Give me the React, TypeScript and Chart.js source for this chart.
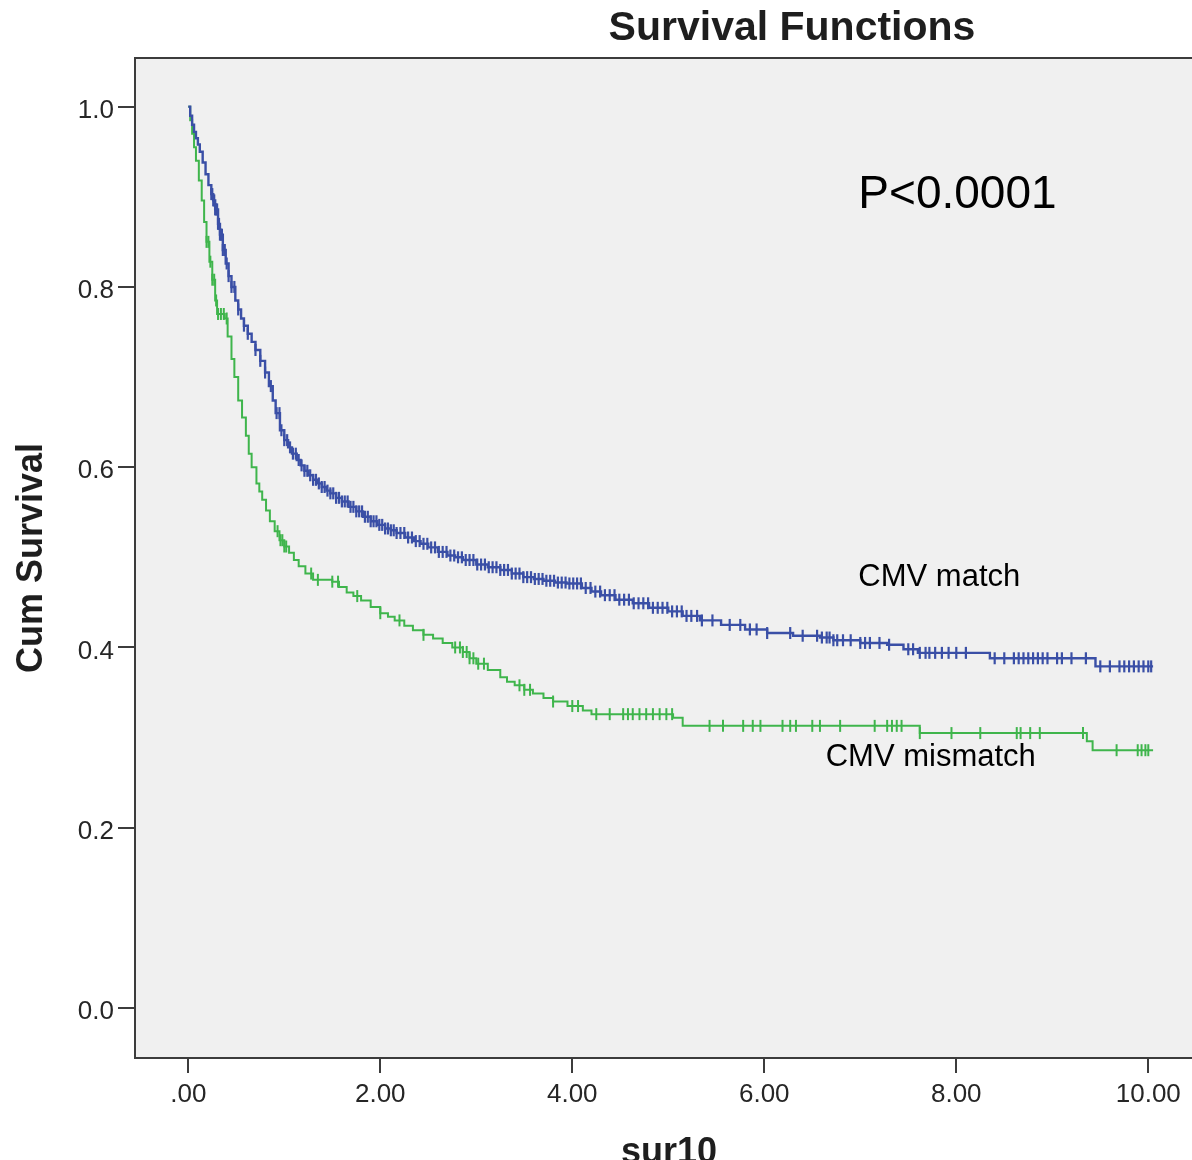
import { useEffect, useRef } from 'react';
import { Chart, registerables } from 'chart.js';

Chart.register(...registerables);

// ---- Data ----
const chartTitle = 'Survival Functions';
const xAxisTitle = 'sur10';
const yAxisTitle = 'Cum Survival';
const pValueText = 'P<0.0001';
const seriesNames = ['CMV match', 'CMV mismatch'];

const xTickValues = [0, 2, 4, 6, 8, 10];
const yTickValues = [0, 0.2, 0.4, 0.6, 0.8, 1.0];

// CMV match (blue) Kaplan-Meier curve: event times and survival after each step
const matchTimes = [0, 0.02, 0.04, 0.06, 0.08, 0.10, 0.12, 0.15, 0.18, 0.21, 0.24, 0.26, 0.28, 0.31, 0.33, 0.36, 0.39, 0.42, 0.45, 0.49, 0.52, 0.55, 0.58, 0.62, 0.66, 0.70, 0.75, 0.80, 0.84, 0.88, 0.91, 0.955, 1.00, 1.04, 1.08, 1.13, 1.17, 1.21, 1.25, 1.30, 1.35, 1.39, 1.44, 1.48, 1.54, 1.60, 1.67, 1.75, 1.82, 1.90, 1.97, 2.05, 2.11, 2.17, 2.26, 2.35, 2.42, 2.5, 2.6, 2.7, 2.78, 2.86, 3.0, 3.12, 3.25, 3.37, 3.49, 3.6, 3.7, 3.82, 3.94, 4.1, 4.2, 4.3, 4.45, 4.63, 4.8, 5.0, 5.15, 5.33, 5.55, 5.8, 6.03, 6.3, 6.58, 6.72, 7.0, 7.28, 7.45, 7.6, 8.35, 9.45, 10.05];
const matchSurv = [1.0, 0.99, 0.98, 0.972, 0.965, 0.958, 0.95, 0.938, 0.925, 0.913, 0.903, 0.896, 0.886, 0.87, 0.858, 0.841, 0.826, 0.812, 0.8, 0.785, 0.775, 0.765, 0.757, 0.748, 0.739, 0.73, 0.718, 0.705, 0.69, 0.674, 0.66, 0.641, 0.63, 0.622, 0.615, 0.608, 0.602, 0.596, 0.591, 0.586, 0.582, 0.578, 0.574, 0.571, 0.566, 0.562, 0.556, 0.551, 0.545, 0.54, 0.536, 0.532, 0.53, 0.527, 0.522, 0.518, 0.515, 0.511, 0.506, 0.502, 0.5, 0.497, 0.492, 0.489, 0.486, 0.482, 0.478, 0.476, 0.474, 0.472, 0.471, 0.466, 0.462, 0.458, 0.453, 0.449, 0.444, 0.44, 0.435, 0.43, 0.425, 0.42, 0.416, 0.413, 0.411, 0.408, 0.405, 0.403, 0.398, 0.394, 0.388, 0.379, 0.379];

// CMV mismatch (green) Kaplan-Meier curve
const mismatchTimes = [0, 0.02, 0.04, 0.06, 0.08, 0.11, 0.14, 0.165, 0.19, 0.22, 0.25, 0.28, 0.30, 0.38, 0.41, 0.45, 0.48, 0.52, 0.56, 0.60, 0.63, 0.66, 0.71, 0.74, 0.77, 0.81, 0.85, 0.90, 0.95, 1.00, 1.05, 1.10, 1.15, 1.22, 1.30, 1.5, 1.57, 1.65, 1.72, 1.8, 1.9, 2.0, 2.08, 2.15, 2.25, 2.34, 2.45, 2.55, 2.65, 2.75, 2.86, 2.93, 3.0, 3.12, 3.25, 3.32, 3.4, 3.5, 3.59, 3.7, 3.8, 3.95, 4.11, 4.2, 5.05, 5.15, 7.62, 9.36, 9.42, 10.05];
const mismatchSurv = [1.0, 0.985, 0.97, 0.955, 0.94, 0.918, 0.896, 0.872, 0.85, 0.828, 0.808, 0.785, 0.77, 0.765, 0.745, 0.72, 0.7, 0.674, 0.655, 0.635, 0.615, 0.6, 0.582, 0.573, 0.564, 0.552, 0.54, 0.529, 0.519, 0.512, 0.505, 0.497, 0.49, 0.482, 0.475, 0.473, 0.467, 0.461, 0.457, 0.452, 0.445, 0.438, 0.434, 0.43, 0.424, 0.419, 0.414, 0.41, 0.405, 0.4, 0.395, 0.388, 0.382, 0.375, 0.367, 0.362, 0.358, 0.353, 0.349, 0.344, 0.34, 0.335, 0.33, 0.326, 0.322, 0.313, 0.305, 0.296, 0.286, 0.286];

// Censored observation times
const matchCensored = [0.24, 0.25, 0.26, 0.27, 0.28, 0.29, 0.30, 0.31, 0.32, 0.33, 0.34, 0.35, 0.36, 0.38, 0.40, 0.42, 0.45, 0.48, 0.52, 0.58, 0.62, 0.70, 0.75, 0.80, 0.86, 0.92, 0.95, 0.97, 1.00, 1.03, 1.06, 1.09, 1.12, 1.15, 1.18, 1.21, 1.24, 1.27, 1.30, 1.33, 1.36, 1.39, 1.42, 1.45, 1.48, 1.51, 1.54, 1.57, 1.60, 1.63, 1.66, 1.69, 1.72, 1.75, 1.78, 1.81, 1.84, 1.87, 1.90, 1.93, 1.96, 1.99, 2.02, 2.05, 2.08, 2.11, 2.14, 2.17, 2.21, 2.25, 2.29, 2.33, 2.37, 2.41, 2.45, 2.49, 2.53, 2.57, 2.61, 2.65, 2.69, 2.73, 2.77, 2.81, 2.85, 2.89, 2.93, 2.97, 3.01, 3.05, 3.09, 3.13, 3.17, 3.21, 3.25, 3.29, 3.33, 3.37, 3.41, 3.45, 3.49, 3.53, 3.57, 3.61, 3.65, 3.69, 3.73, 3.77, 3.81, 3.85, 3.89, 3.93, 3.97, 4.01, 4.05, 4.09, 4.14, 4.19, 4.24, 4.29, 4.34, 4.39, 4.44, 4.49, 4.54, 4.59, 4.64, 4.69, 4.74, 4.79, 4.84, 4.89, 4.94, 4.99, 5.04, 5.09, 5.14, 5.19, 5.24, 5.30, 5.35, 5.46, 5.64, 5.75, 5.85, 5.92, 6.03, 6.27, 6.40, 6.55, 6.60, 6.65, 6.68, 6.72, 6.76, 6.82, 6.9, 7.0, 7.05, 7.1, 7.2, 7.3, 7.5, 7.55, 7.62, 7.68, 7.72, 7.78, 7.85, 7.92, 8.0, 8.1, 8.4, 8.5, 8.6, 8.65, 8.7, 8.75, 8.8, 8.85, 8.9, 8.95, 9.05, 9.1, 9.2, 9.35, 9.5, 9.6, 9.7, 9.75, 9.8, 9.85, 9.9, 9.95, 10.0, 10.03];
const mismatchCensored = [0.19, 0.21, 0.23, 0.25, 0.27, 0.29, 0.31, 0.34, 0.37, 0.40, 0.93, 0.96, 0.98, 1.00, 1.02, 1.28, 1.35, 1.50, 1.56, 1.76, 2.0, 2.2, 2.45, 2.78, 2.83, 2.86, 2.90, 2.93, 2.97, 3.02, 3.08, 3.45, 3.50, 3.56, 3.80, 4.00, 4.06, 4.25, 4.39, 4.53, 4.58, 4.63, 4.70, 4.77, 4.84, 4.91, 4.98, 5.04, 5.43, 5.57, 5.78, 5.88, 5.96, 6.19, 6.27, 6.33, 6.50, 6.58, 6.79, 7.15, 7.28, 7.33, 7.38, 7.43, 7.62, 7.95, 8.25, 8.63, 8.67, 8.77, 8.87, 9.32, 9.67, 9.89, 9.93, 9.97, 10.0];

// ---- Styling ----
const BLUE = '#3a4fa6';
const GREEN = '#3fb54c';
const FONT = '"Liberation Sans", Arial, sans-serif';
const CANVAS_W = 1215;
const CANVAS_H = 1160;

function survAt(times: number[], surv: number[], t: number): number {
  let s = surv[0];
  for (let i = 0; i < times.length; i++) {
    if (times[i] <= t) s = surv[i];
    else break;
  }
  return s;
}

function curvePoints(times: number[], surv: number[]) {
  return times.map((t, i) => ({ x: t, y: surv[i] }));
}

function censorPoints(cens: number[], times: number[], surv: number[]) {
  return cens.map((t) => ({ x: t, y: survAt(times, surv, t) }));
}

const decorPlugin = {
  id: 'decor',
  beforeDraw(chart: any) {
    const { ctx, chartArea } = chart;
    const { left, top, right, bottom } = chartArea;
    ctx.save();
    ctx.fillStyle = '#f0f0f0';
    ctx.fillRect(left, top, right - left, bottom - top);
    ctx.restore();
  },
  afterDraw(chart: any) {
    const { ctx, chartArea, scales } = chart;
    const { left, top, right, bottom } = chartArea;
    ctx.save();
    // frame
    ctx.strokeStyle = '#3c3c3c';
    ctx.lineWidth = 2;
    ctx.strokeRect(left, top, right - left, bottom - top);

    // chart title
    ctx.fillStyle = '#1e1e1e';
    ctx.font = `bold 41px ${FONT}`;
    ctx.textAlign = 'center';
    ctx.textBaseline = 'middle';
    ctx.fillText(chartTitle, 792, 29);

    // axis titles
    ctx.font = `bold 36px ${FONT}`;
    ctx.textAlign = 'center';
    ctx.textBaseline = 'alphabetic';
    ctx.fillText(xAxisTitle, (left + right) / 2, 1163);

    ctx.save();
    ctx.translate(32, (top + bottom) / 2);
    ctx.rotate(-Math.PI / 2);
    ctx.textBaseline = 'middle';
    ctx.fillText(yAxisTitle, 0, 0);
    ctx.restore();

    // annotations in data coordinates
    const xs = scales.x;
    const ys = scales.y;
    ctx.fillStyle = '#000';
    ctx.textAlign = 'left';
    ctx.textBaseline = 'middle';
    ctx.font = `46px ${FONT}`;
    ctx.fillText(pValueText, xs.getPixelForValue(6.98), ys.getPixelForValue(0.902));
    ctx.font = `31px ${FONT}`;
    ctx.fillText(seriesNames[0], xs.getPixelForValue(6.98), ys.getPixelForValue(0.478));
    ctx.fillText(seriesNames[1], xs.getPixelForValue(6.64), ys.getPixelForValue(0.278));
    ctx.restore();
  },
};

export default function App() {
  const canvasRef = useRef<HTMLCanvasElement | null>(null);

  useEffect(() => {
    const canvas = canvasRef.current;
    if (!canvas) return;
    const chart = new Chart(canvas, {
      type: 'scatter',
      data: {
        datasets: [
          {
            label: seriesNames[0],
            data: curvePoints(matchTimes, matchSurv),
            showLine: true,
            stepped: true,
            borderColor: BLUE,
            backgroundColor: BLUE,
            borderWidth: 2.4,
            pointRadius: 0,
          },
          {
            label: seriesNames[1],
            data: curvePoints(mismatchTimes, mismatchSurv),
            showLine: true,
            stepped: true,
            borderColor: GREEN,
            backgroundColor: GREEN,
            borderWidth: 2,
            pointRadius: 0,
          },
          {
            label: seriesNames[0] + ' censored',
            data: censorPoints(matchCensored, matchTimes, matchSurv),
            showLine: false,
            pointStyle: 'line',
            rotation: 90,
            pointRadius: 6,
            pointBorderWidth: 2.2,
            borderColor: BLUE,
            backgroundColor: BLUE,
          },
          {
            label: seriesNames[1] + ' censored',
            data: censorPoints(mismatchCensored, mismatchTimes, mismatchSurv),
            showLine: false,
            pointStyle: 'line',
            rotation: 90,
            pointRadius: 6,
            pointBorderWidth: 2,
            borderColor: GREEN,
            backgroundColor: GREEN,
          },
        ],
      },
      options: {
        responsive: false,
        animation: false,
        devicePixelRatio: 1,
        layout: { padding: { left: 0, top: 58, right: CANVAS_W - 1203, bottom: 0 } },
        plugins: {
          legend: { display: false },
          title: { display: false },
          tooltip: { enabled: false },
        },
        scales: {
          x: {
            type: 'linear',
            min: -0.555,
            max: 10.57,
            afterBuildTicks: (scale: any) => {
              scale.ticks = xTickValues.map((v) => ({ value: v }));
            },
            afterFit: (scale: any) => {
              scale.height = CANVAS_H - 1058;
            },
            ticks: {
              autoSkip: false,
              maxRotation: 0,
              padding: 6,
              color: '#262626',
              font: { family: FONT, size: 26 },
              callback: (v: any) => (v === 0 ? '.00' : Number(v).toFixed(2)),
            },
            grid: {
              drawOnChartArea: false,
              drawTicks: true,
              tickLength: 15,
              color: '#3c3c3c',
              lineWidth: 2,
            },
            border: { display: false },
          },
          y: {
            type: 'linear',
            min: -0.0555,
            max: 1.054,
            afterBuildTicks: (scale: any) => {
              scale.ticks = yTickValues.map((v) => ({ value: v }));
            },
            afterFit: (scale: any) => {
              scale.width = 135;
            },
            ticks: {
              autoSkip: false,
              padding: 4,
              labelOffset: 4,
              color: '#262626',
              font: { family: FONT, size: 26 },
              callback: (v: any) => Number(v).toFixed(1),
            },
            grid: {
              drawOnChartArea: false,
              drawTicks: true,
              tickLength: 17,
              color: '#3c3c3c',
              lineWidth: 2,
            },
            border: { display: false },
          },
        },
      },
      plugins: [decorPlugin],
    } as any);
    return () => chart.destroy();
  }, []);

  return (
    <div
      style={{
        position: 'absolute',
        left: 0,
        top: 0,
        width: 1192,
        height: CANVAS_H,
        overflow: 'hidden',
        background: '#fff',
      }}
    >
      <canvas
        ref={canvasRef}
        width={CANVAS_W}
        height={CANVAS_H}
        style={{ width: CANVAS_W, height: CANVAS_H, display: 'block' }}
      />
    </div>
  );
}
